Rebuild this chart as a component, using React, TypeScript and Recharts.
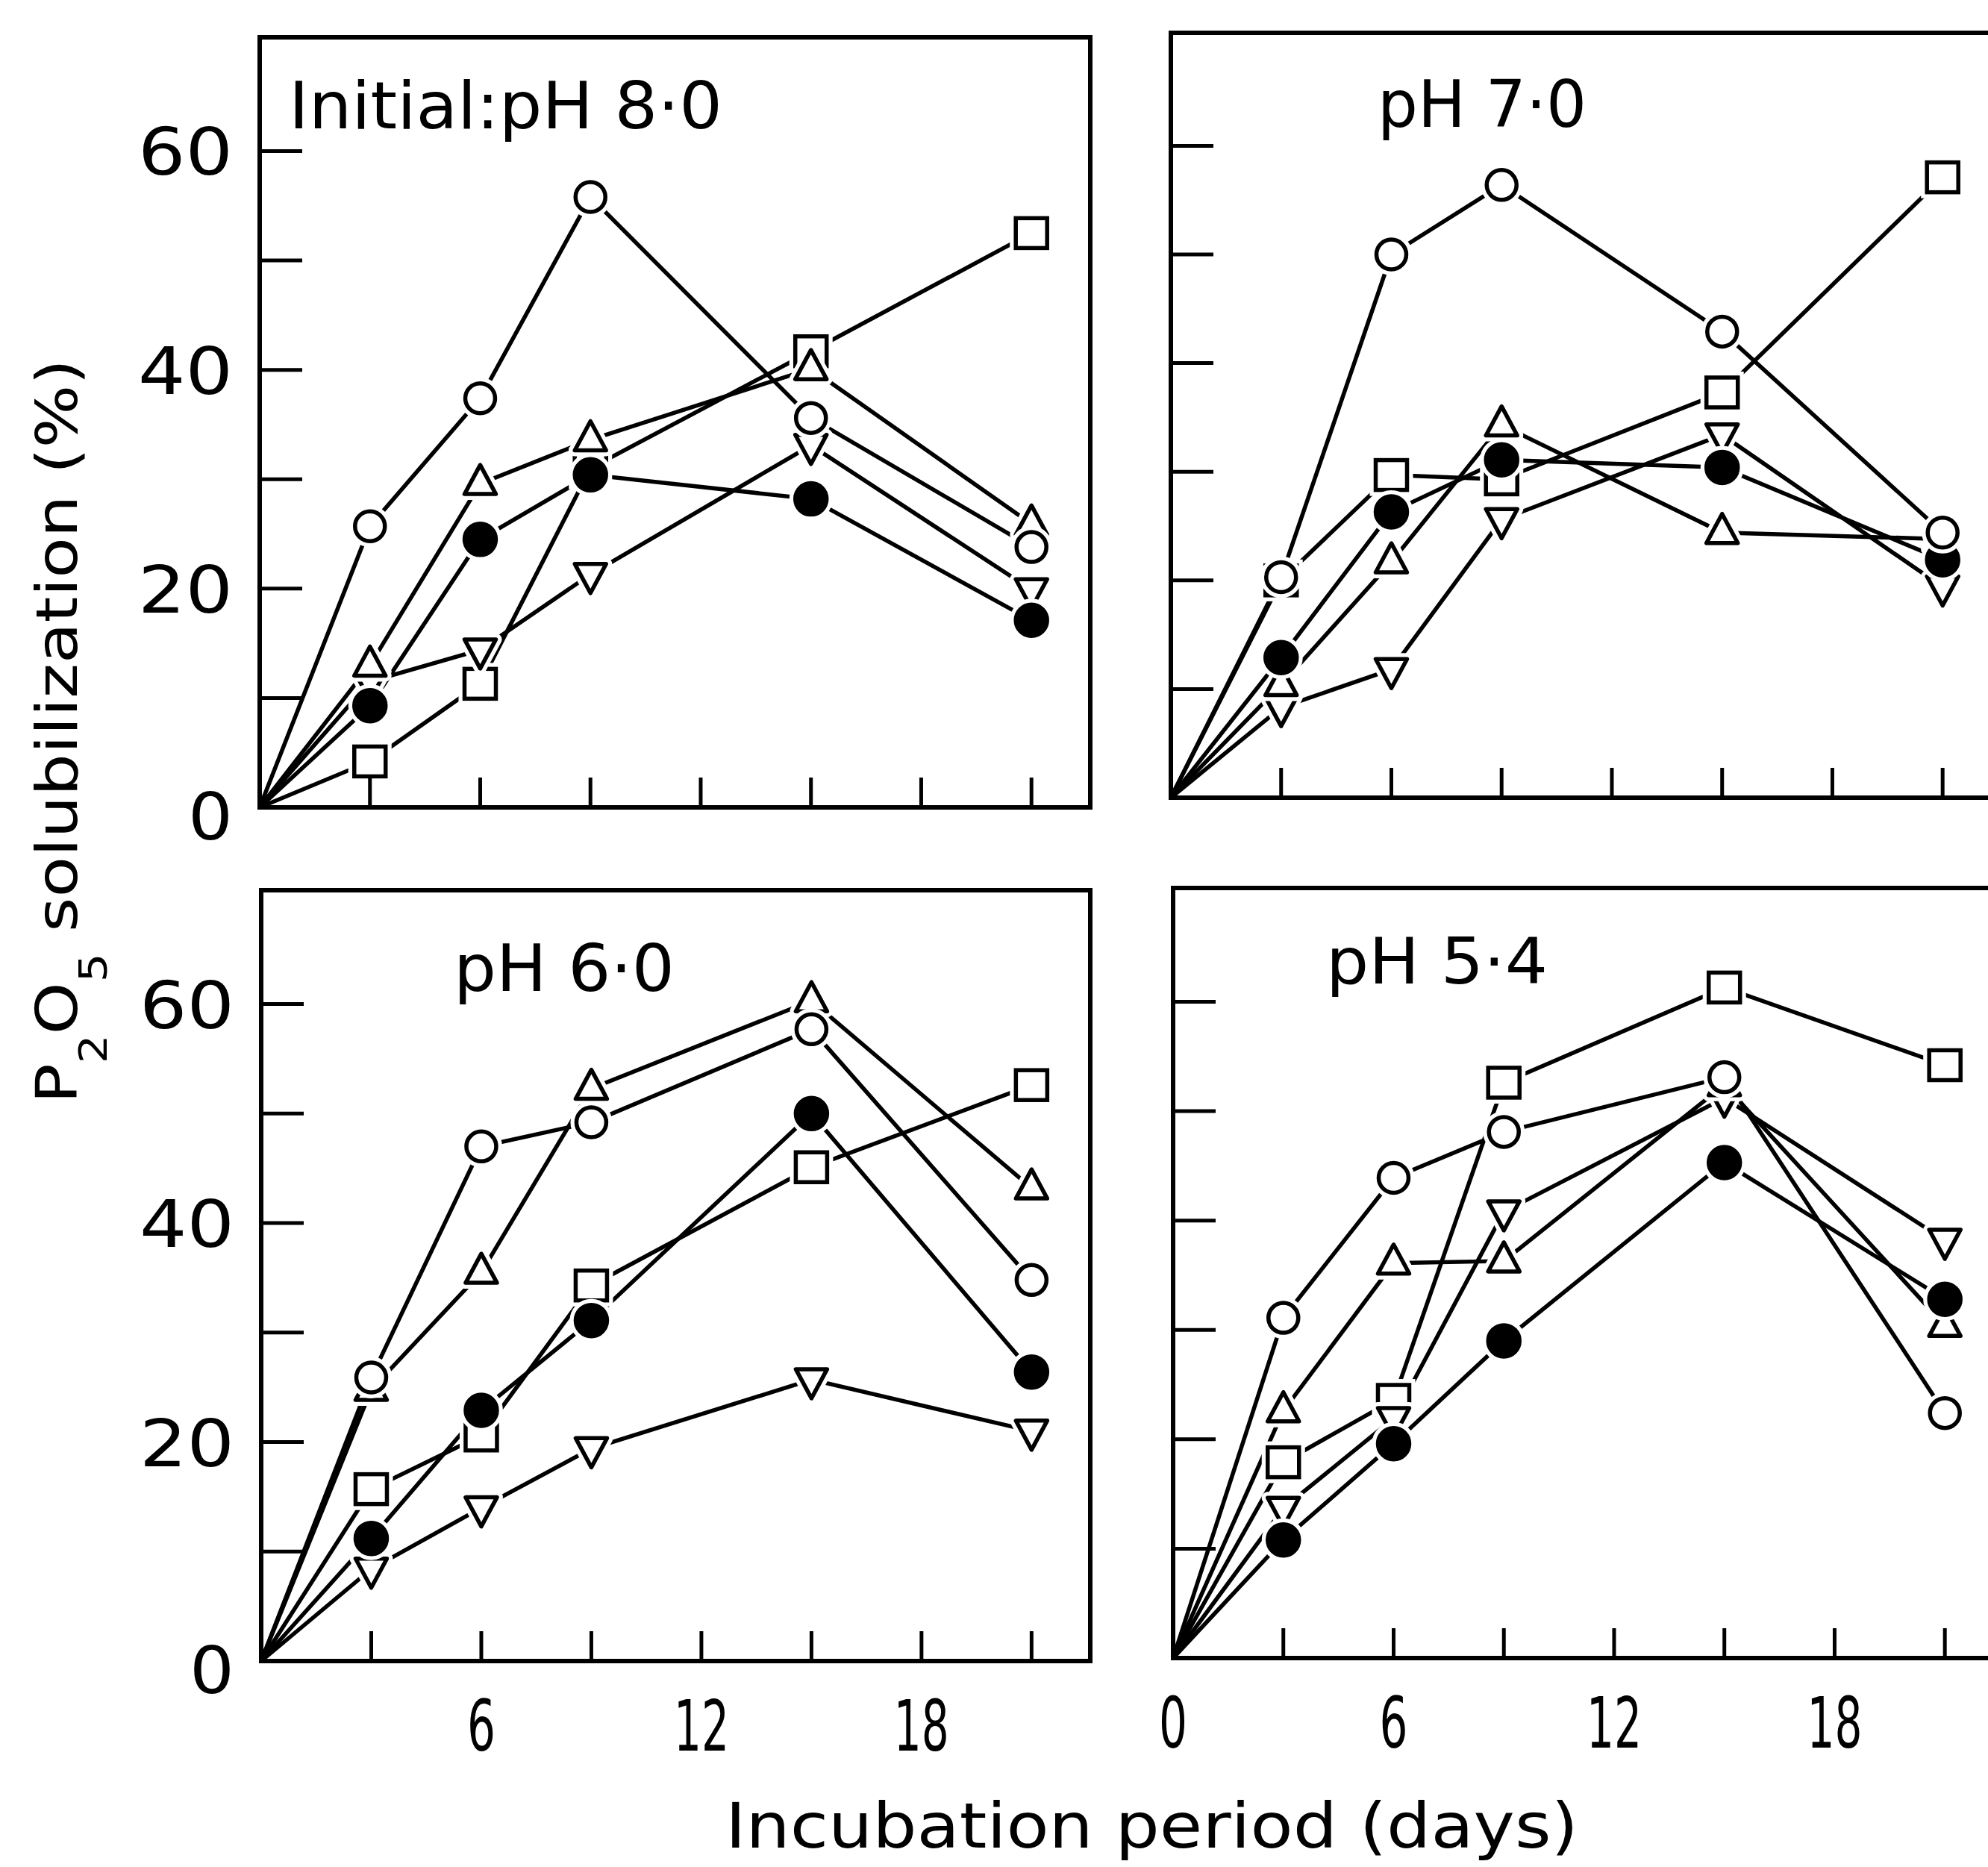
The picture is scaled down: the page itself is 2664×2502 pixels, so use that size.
import { LineChart, Line, XAxis, YAxis, ReferenceArea } from 'recharts'

// sampling days (day 0 = origin, no marker)
const days = [0, 3, 6, 9, 15, 21]

// Initial pH 8.0
const ph80OpenCircle = [0, 25.7, 37.4, 55.8, 35.6, 23.8]
const ph80FilledCircle = [0, 9.3, 24.5, 30.4, 28.2, 17.1]
const ph80Square = [0, 4.2, 11.3, 31.0, 41.7, 52.5]
const ph80TriUp = [0, 13.0, 29.6, 33.6, 40.1, 25.9]
const ph80TriDown = [0, 11.5, 14.4, 21.3, 33.1, 19.9]

// pH 7.0
const ph70OpenCircle = [0, 20.3, 50.0, 56.4, 42.9, 24.4]
const ph70FilledCircle = [0, 12.9, 26.3, 31.1, 30.4, 21.9]
const ph70Square = [0, 20.0, 29.7, 29.3, 37.3, 57.1]
const ph70TriUp = [0, 10.4, 21.7, 34.3, 24.4, 23.8]
const ph70TriDown = [0, 8.3, 11.8, 25.6, 33.4, 19.4]

// pH 6.0
const ph60OpenCircle = [0, 25.9, 47.0, 49.2, 57.7, 34.8]
const ph60FilledCircle = [0, 11.2, 22.9, 31.1, 50.0, 26.4]
const ph60Square = [0, 15.7, 20.6, 34.3, 45.1, 52.6]
const ph60TriUp = [0, 24.8, 35.5, 52.3, 60.3, 43.2]
const ph60TriDown = [0, 8.4, 14.0, 19.4, 25.7, 21.0]

// pH 5.4
const ph54OpenCircle = [0, 31.1, 43.9, 48.1, 53.1, 22.4]
const ph54FilledCircle = [0, 10.8, 19.6, 29.0, 45.3, 32.8]
const ph54Square = [0, 17.9, 23.6, 52.6, 61.3, 54.2]
const ph54TriUp = [0, 22.6, 36.1, 36.3, 52.4, 30.4]
const ph54TriDown = [0, 13.7, 21.9, 40.8, 51.2, 38.2]

const yTickValues = [0, 10, 20, 30, 40, 50, 60]
const yLabelled = [0, 20, 40, 60]
const xTickValues = [0, 3, 6, 9, 12, 15, 18, 21]
const xLabelsLeft = [6, 12, 18]
const xLabelsRight = [0, 6, 12, 18]

const X_MAX = 22.6
const Y_MAX = 70.4
const Y_AXIS_W = 200
const X_AXIS_H = 190
const FONT = '"DejaVu Sans", sans-serif'
const LINE_W = 5.5

type Kind = 'openCircle' | 'filledCircle' | 'square' | 'triUp' | 'triDown'

const seriesKinds: Kind[] = ['square', 'triDown', 'triUp', 'filledCircle', 'openCircle']

function shape(kind: Kind, cx: number, cy: number, halo: boolean, sw: number) {
  const stroke = halo ? '#fff' : '#000'
  const fill = '#fff'
  if (kind === 'openCircle') return <circle cx={cx} cy={cy} r={20} fill={fill} stroke={stroke} strokeWidth={sw} />
  if (kind === 'filledCircle') return <circle cx={cx} cy={cy} r={21} fill={halo ? '#fff' : '#000'} stroke={stroke} strokeWidth={sw} />
  if (kind === 'square') return <rect x={cx - 21} y={cy - 20} width={42} height={40} fill={fill} stroke={stroke} strokeWidth={sw} />
  if (kind === 'triUp')
    return <polygon points={`${cx},${cy - 25} ${cx - 21},${cy + 14} ${cx + 21},${cy + 14}`} fill={fill} stroke={stroke} strokeWidth={sw} strokeLinejoin="round" />
  return <polygon points={`${cx - 21},${cy - 14} ${cx + 21},${cy - 14} ${cx},${cy + 25}`} fill={fill} stroke={stroke} strokeWidth={sw} strokeLinejoin="round" />
}

const renderMarker = (kind: Kind) => (props: any) => {
  const { cx, cy, index, payload } = props
  if (cx == null || cy == null || payload?.day === 0) return <g key={`${kind}-${index}`} />
  return (
    <g key={`${kind}-${index}`}>
      {shape(kind, cx, cy, true, 16)}
      {shape(kind, cx, cy, false, LINE_W)}
    </g>
  )
}

const YTick = (props: any) => {
  const { x, y, payload, showLabels } = props
  const v = payload.value
  const labelled = showLabels && yLabelled.includes(v)
  const txt = String(v)
  return (
    <g>
      {v !== 0 && <line x1={x} y1={y} x2={x + 57} y2={y} stroke="#000" strokeWidth={5} />}
      {labelled && (
        <text
          x={x - 36}
          y={y + (v === 0 ? 43 : 32)}
          textAnchor="end"
          fontFamily={FONT}
          fontSize={88}
          textLength={txt.length === 1 ? 60 : 127}
          lengthAdjust="spacingAndGlyphs"
        >
          {txt}
        </text>
      )}
    </g>
  )
}

const XTick = (props: any) => {
  const { x, y, payload, labels } = props
  const v = payload.value
  const txt = String(v)
  const labelled = labels.includes(v)
  return (
    <g>
      {v !== 0 && <line x1={x} y1={y} x2={x} y2={y - 40} stroke="#000" strokeWidth={5} />}
      {labelled && (
        <text
          x={x}
          y={y + 120}
          textAnchor="middle"
          fontFamily={FONT}
          fontSize={95}
          textLength={txt.length === 1 ? 38 : 74}
          lengthAdjust="spacingAndGlyphs"
        >
          {txt}
        </text>
      )}
    </g>
  )
}

interface PanelProps {
  left: number
  top: number
  w: number
  h: number
  series: number[][]
  yLabels: boolean
  xLabels: number[]
}

function Panel({ left, top, w, h, series, yLabels, xLabels }: PanelProps) {
  const data = days.map((d, i) => {
    const row: Record<string, number> = { day: d }
    seriesKinds.forEach((k, j) => {
      row[k] = series[j][i]
    })
    return row
  })
  const mTop = 10
  const mRight = 10
  return (
    <div style={{ position: 'absolute', left: left - Y_AXIS_W, top: top - mTop }}>
      <LineChart
        width={Y_AXIS_W + w + mRight}
        height={mTop + h + X_AXIS_H}
        data={data}
        margin={{ top: mTop, right: mRight, bottom: 0, left: 0 }}
      >
        <XAxis
          dataKey="day"
          type="number"
          domain={[0, X_MAX]}
          ticks={xTickValues}
          interval={0}
          axisLine={false}
          tickLine={false}
          tickSize={0}
          tickMargin={0}
          height={X_AXIS_H}
          tick={<XTick labels={xLabels} />}
        />
        <YAxis
          type="number"
          domain={[0, Y_MAX]}
          ticks={yTickValues}
          interval={0}
          axisLine={false}
          tickLine={false}
          tickSize={0}
          tickMargin={0}
          width={Y_AXIS_W}
          tick={<YTick showLabels={yLabels} />}
        />
        <ReferenceArea x1={0} x2={X_MAX} y1={0} y2={Y_MAX} fill="none" fillOpacity={0} stroke="#000" strokeWidth={6} />
        {seriesKinds.map((k) => (
          <Line
            key={k}
            type="linear"
            dataKey={k}
            stroke="#000"
            strokeWidth={LINE_W}
            dot={renderMarker(k)}
            activeDot={false}
            isAnimationActive={false}
          />
        ))}
      </LineChart>
    </div>
  )
}

export default function App() {
  return (
    <div
      style={{
        position: 'absolute',
        left: 0,
        top: 0,
        width: 2664,
        height: 2502,
        overflow: 'hidden',
        background: '#fff',
      }}
    >
      <Panel
        left={348}
        top={50}
        w={1113}
        h={1032}
        series={[ph80Square, ph80TriDown, ph80TriUp, ph80FilledCircle, ph80OpenCircle]}
        yLabels
        xLabels={[]}
      />
      <Panel
        left={1569}
        top={44}
        w={1113}
        h={1025}
        series={[ph70Square, ph70TriDown, ph70TriUp, ph70FilledCircle, ph70OpenCircle]}
        yLabels={false}
        xLabels={[]}
      />
      <Panel
        left={350}
        top={1193}
        w={1111}
        h={1033}
        series={[ph60Square, ph60TriDown, ph60TriUp, ph60FilledCircle, ph60OpenCircle]}
        yLabels
        xLabels={xLabelsLeft}
      />
      <Panel
        left={1572}
        top={1190}
        w={1113}
        h={1032}
        series={[ph54Square, ph54TriDown, ph54TriUp, ph54FilledCircle, ph54OpenCircle]}
        yLabels={false}
        xLabels={xLabelsRight}
      />
      <svg
        width={2664}
        height={2502}
        style={{ position: 'absolute', left: 0, top: 0, pointerEvents: 'none' }}
        fontFamily={FONT}
      >
        <text x={387} y={172} fontSize={88} textLength={581} lengthAdjust="spacingAndGlyphs">
          Initial:pH 8·0
        </text>
        <text x={1846} y={170} fontSize={88} textLength={280} lengthAdjust="spacingAndGlyphs">
          pH 7·0
        </text>
        <text x={608} y={1328} fontSize={88} textLength={296} lengthAdjust="spacingAndGlyphs">
          pH 6·0
        </text>
        <text x={1777} y={1318} fontSize={86} textLength={297} lengthAdjust="spacingAndGlyphs">
          pH 5·4
        </text>
        <text x={972} y={2476} fontSize={84} textLength={1143} lengthAdjust="spacingAndGlyphs">
          Incubation period (days)
        </text>
        <text
          transform="translate(103, 980) rotate(-90)"
          fontSize={76}
          textAnchor="middle"
          textLength={998}
          lengthAdjust="spacingAndGlyphs"
        >
          P<tspan fontSize={52} dy={40}>2</tspan>
          <tspan dy={-40}>O</tspan>
          <tspan fontSize={52} dy={40}>5</tspan>
          <tspan dy={-40}> solubilization (%)</tspan>
        </text>
      </svg>
    </div>
  )
}
